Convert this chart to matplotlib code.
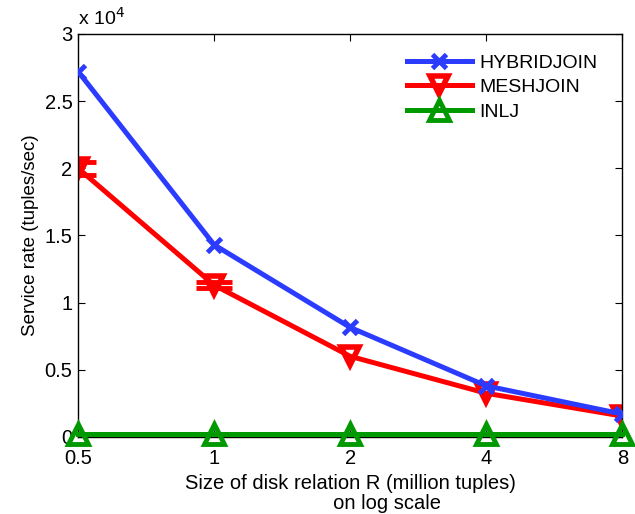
import numpy as np
import matplotlib.pyplot as plt
from matplotlib.ticker import FuncFormatter, FixedLocator, NullLocator

plt.rcParams['font.family'] = ['Liberation Sans', 'DejaVu Sans']

# data (service rate in tuples/sec)
size_r = [0.5, 1, 2, 4, 8]
hybridjoin = [27200, 14300, 8150, 3800, 1700]
meshjoin = [20000, 11300, 6000, 3250, 1550]
meshjoin_err = [500, 230, 0, 0, 0]
inlj = [250, 250, 250, 250, 250]
x_labels = ['0.5', '1', '2', '4', '8']

fig = plt.figure(figsize=(6.35, 5.14), dpi=100)
ax = fig.add_axes([0.123, 0.15, 0.857, 0.784])

ax.plot(size_r, hybridjoin, color='#2b3cff', lw=3.6, marker='x', ms=10, mew=3.5,
        label='HYBRIDJOIN', zorder=3)
ax.plot(size_r, meshjoin, color='red', lw=3.6, marker='v', ms=13, mew=4, mfc='none',
        label='MESHJOIN', zorder=2)
# error bars only where they are visible (first two points)
ax.errorbar(size_r[:2], meshjoin[:2], yerr=meshjoin_err[:2], fmt='none', ecolor='red',
            capsize=13, capthick=3.5, elinewidth=3.5, zorder=2)
ax.plot(size_r, inlj, color='#009900', lw=3.6, marker='^', ms=15, mew=3.5, mfc='none',
        label='INLJ', zorder=4, clip_on=False)

ax.set_xscale('log')
ax.set_xlim(0.5, 8)
ax.xaxis.set_major_locator(FixedLocator(size_r))
ax.xaxis.set_minor_locator(NullLocator())
ax.set_xticklabels(x_labels)
ax.set_ylim(0, 30000)
ax.set_yticks(np.arange(0, 30001, 5000))
ax.yaxis.set_major_formatter(FuncFormatter(lambda v, p: '%g' % (v / 1e4)))
ax.tick_params(direction='in', top=True, right=True, labelsize=14.5, length=5, pad=4)
ax.tick_params(axis='x', pad=9)
for s in ax.spines.values():
    s.set_linewidth(1.0)

ax.set_xlabel('Size of disk relation R (million tuples)\n             on log scale', fontsize=14.5,
              labelpad=4, linespacing=1.05)
ax.set_ylabel('Service rate (tuples/sec)', fontsize=13.5, labelpad=4)
ax.text(0.0, 1.012, r'x 10$^4$', transform=ax.transAxes, fontsize=14, va='bottom')

ax.legend(loc='upper left', frameon=False, fontsize=14, handlelength=3.3,
          handletextpad=0.4, borderpad=0, borderaxespad=0,
          bbox_to_anchor=(0.605, 0.95), labelspacing=0.35)

fig.savefig('out.png', dpi=100)
